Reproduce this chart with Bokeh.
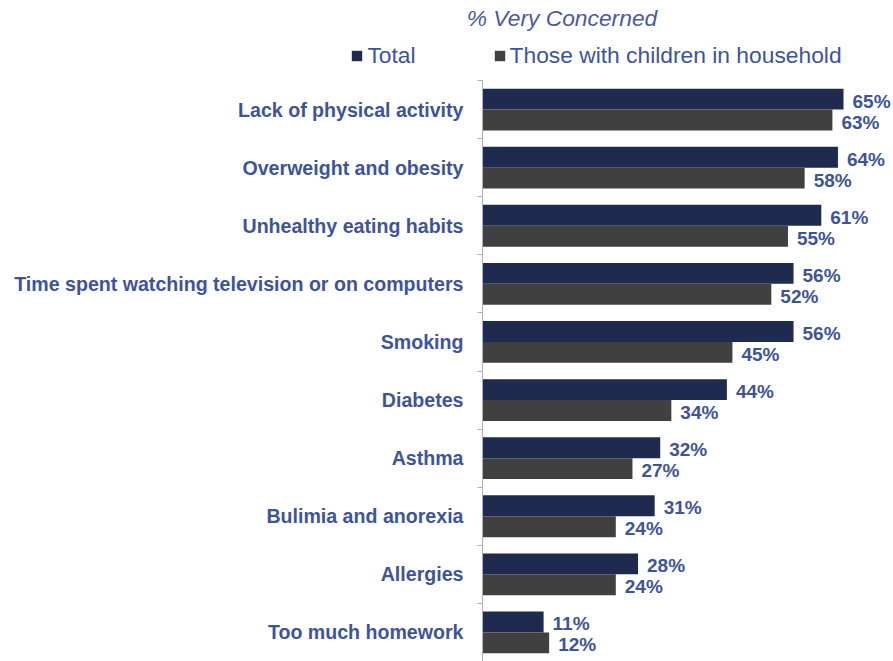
import numpy as np
from bokeh.plotting import figure
from bokeh.layouts import column
from bokeh.models import (ColumnDataSource, FixedTicker, Range1d, Legend, LegendItem)
from bokeh.core.properties import value
from bokeh.embed import file_html
from bokeh.resources import INLINE

categories = [
    "Lack of physical activity",
    "Overweight and obesity",
    "Unhealthy eating habits",
    "Time spent watching television or on computers",
    "Smoking",
    "Diabetes",
    "Asthma",
    "Bulimia and anorexia",
    "Allergies",
    "Too much homework",
]
total = [65, 64, 61, 56, 56, 44, 32, 31, 28, 11]
children = [63, 58, 55, 52, 45, 34, 27, 24, 24, 12]
series_names = ["Total", "Those with children in household"]
title_text = "% Very Concerned"

NAVY = "#1F2A4F"
GRAY = "#404040"
BLUE = "#3E5498"
FONT = "Liberation Sans"

n = len(categories)
centers = np.array([n - 1 - i + 0.5 for i in range(n)])
off = 0.18
bh = 0.36

src_t = ColumnDataSource(dict(y=centers + off, v=total, lab=[f"{v}%" for v in total]))
src_c = ColumnDataSource(dict(y=centers - off, v=children, lab=[f"{v}%" for v in children]))

# ---- header (title + legend) ----
h = figure(width=893, height=80, output_backend="svg", toolbar_location=None,
           x_range=Range1d(0, 893), y_range=Range1d(0, 80),
           min_border_left=0, min_border_right=0, min_border_top=0, min_border_bottom=0,
           title=None, frame_align=False)
h.outline_line_color = None
h.axis.visible = False
h.grid.visible = False
lt = h.hbar(y="y", right="v", left=0, height=bh, source=src_t, fill_color=NAVY,
            line_color=None, visible=False)
lc = h.hbar(y="y", right="v", left=0, height=bh, source=src_c, fill_color=GRAY,
            line_color=None, visible=False)
h.text(x=[561.5], y=[63], text=[title_text], text_font=value(FONT), text_font_style="italic",
       text_font_size="22.8px", text_color="#4A5C9A", text_align="center", text_baseline="middle")
legend = Legend(items=[LegendItem(label=series_names[0], renderers=[lt]),
                       LegendItem(label=series_names[1], renderers=[lc])],
                orientation="horizontal", location=(350.4, 11.5),
                glyph_width=13, glyph_height=13, label_standoff=4, spacing=77,
                padding=0, margin=0, border_line_color=None, background_fill_alpha=0,
                inactive_fill_alpha=0,
                label_text_font=FONT, label_text_font_size="22.8px", label_text_color=BLUE)
h.add_layout(legend, "center")

# ---- main chart ----
p = figure(width=893, height=581, output_backend="svg", toolbar_location=None,
           x_range=Range1d(0, 74), y_range=Range1d(0, n),
           min_border_left=482, min_border_right=0, min_border_top=0, min_border_bottom=0,
           title=None, frame_align=False)
p.outline_line_color = None
p.xgrid.visible = False
p.ygrid.visible = False
p.xaxis.visible = False

p.hbar(y="y", right="v", left=0, height=bh, source=src_t, fill_color=NAVY, line_color=None)
p.hbar(y="y", right="v", left=0, height=bh, source=src_c, fill_color=GRAY, line_color=None)

for src in (src_t, src_c):
    p.text(x="v", y="y", text="lab", source=src, x_offset=9, y_offset=2,
           text_font=value(FONT), text_font_style="bold", text_font_size="19px",
           text_color=BLUE, text_align="left", text_baseline="middle")

yax = p.yaxis[0]
yax.ticker = FixedTicker(ticks=list(centers), minor_ticks=list(range(n + 1)))
yax.major_label_overrides = {float(c): categories[i] for i, c in enumerate(centers)}
yax.major_tick_line_color = None
yax.major_tick_out = 0
yax.major_tick_in = 0
yax.minor_tick_out = 5
yax.minor_tick_in = 0
yax.minor_tick_line_color = "#A8B0CC"
yax.axis_line_color = "#A8B0CC"
yax.axis_line_width = 1
yax.major_label_standoff = 14
yax.major_label_text_font = FONT
yax.major_label_text_font_style = "bold"
yax.major_label_text_font_size = "19.6px"
yax.major_label_text_color = BLUE

layout = column(h, p, spacing=0)
open("out.html", "w").write(file_html(layout, INLINE))
